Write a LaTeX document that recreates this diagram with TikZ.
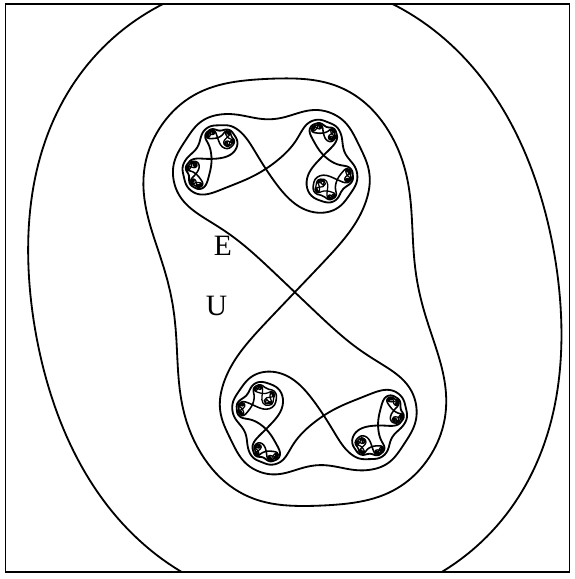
\documentclass[tikz,border=0pt]{standalone}
\usepackage{fontspec}
\usepackage{tikz}
\newfontfamily\labelfont{Liberation Serif}

\ExplSyntaxOn
% f(z) = z^2 + c, level curves of the Green function
\fp_const:Nn \c_jul_cx_fp { 0.9657 }
\fp_const:Nn \c_jul_cy_fp { 0.4806 }
\fp_new:N \l_jul_a_fp
\fp_new:N \l_jul_b_fp
\fp_new:N \l_jul_r_fp
\fp_new:N \l_jul_t_fp
\fp_new:N \l_jul_ang_fp
\fp_new:N \l_jul_zx_fp
\fp_new:N \l_jul_zy_fp
\fp_new:N \l_jul_wx_fp
\fp_new:N \l_jul_wy_fp
\fp_new:N \l_jul_gzero_fp
\fp_new:N \l_jul_thc_fp
\fp_new:N \l_jul_ca_fp
\fp_new:N \l_jul_sa_fp
\fp_new:N \l_jul_rx_fp
\fp_new:N \l_jul_ry_fp
\seq_new:N \l_jul_src_seq
\seq_new:N \l_jul_new_seq
\seq_new:N \l_jul_outer_seq
\tl_new:N \l_jul_path_tl
\int_new:N \l_jul_idx_int
\int_new:N \l_jul_depth_int
\int_set:Nn \l_jul_depth_int { 7 }

\cs_new_protected:Npn \jul_psqrt:
  {
    \fp_set:Nn \l_jul_r_fp { sqrt( \l_jul_a_fp ^ 2 + \l_jul_b_fp ^ 2 ) }
    \fp_set:Nn \l_jul_zx_fp { sqrt( abs( \l_jul_r_fp + \l_jul_a_fp ) / 2 ) }
    \fp_set:Nn \l_jul_zy_fp { sqrt( abs( \l_jul_r_fp - \l_jul_a_fp ) / 2 ) }
    \fp_compare:nNnT { \l_jul_b_fp } < { 0 }
      { \fp_set:Nn \l_jul_zy_fp { - \l_jul_zy_fp } }
  }

% point of {G = #1} at external angle #2, #3 backward steps
\cs_new_protected:Npn \jul_psi:nnn #1#2#3
  {
    \fp_set:Nn \l_jul_r_fp { exp( 2 ^ (#3) * (#1) ) }
    \fp_set:Nn \l_jul_ang_fp { 2 ^ (#3) * (#2) }
    \fp_set:Nn \l_jul_wx_fp { \l_jul_r_fp * cosd( \l_jul_ang_fp ) }
    \fp_set:Nn \l_jul_wy_fp { \l_jul_r_fp * sind( \l_jul_ang_fp ) }
    \prg_replicate:nn { #3 }
      {
        \fp_set:Nn \l_jul_ang_fp { \l_jul_ang_fp / 2 }
        \fp_set:Nn \l_jul_a_fp { \l_jul_wx_fp - \c_jul_cx_fp }
        \fp_set:Nn \l_jul_b_fp { \l_jul_wy_fp - \c_jul_cy_fp }
        \jul_psqrt:
        \fp_compare:nNnTF
          { \l_jul_zx_fp * cosd( \l_jul_ang_fp ) + \l_jul_zy_fp * sind( \l_jul_ang_fp ) } < { 0 }
          {
            \fp_set:Nn \l_jul_wx_fp { - \l_jul_zx_fp }
            \fp_set:Nn \l_jul_wy_fp { - \l_jul_zy_fp }
          }
          {
            \fp_set_eq:NN \l_jul_wx_fp \l_jul_zx_fp
            \fp_set_eq:NN \l_jul_wy_fp \l_jul_zy_fp
          }
      }
  }

\cs_new_protected:Npn \jul_setup:
  {
    \fp_zero:N \l_jul_zx_fp
    \fp_zero:N \l_jul_zy_fp
    \prg_replicate:nn { 8 }
      {
        \fp_set:Nn \l_jul_t_fp { \l_jul_zx_fp ^ 2 - \l_jul_zy_fp ^ 2 + \c_jul_cx_fp }
        \fp_set:Nn \l_jul_zy_fp { 2 * \l_jul_zx_fp * \l_jul_zy_fp + \c_jul_cy_fp }
        \fp_set_eq:NN \l_jul_zx_fp \l_jul_t_fp
      }
    \fp_set:Nn \l_jul_gzero_fp { ln( \l_jul_zx_fp ^ 2 + \l_jul_zy_fp ^ 2 ) / 512 }
    % external angle of c
    \fp_set:Nn \l_jul_thc_fp { atand( \c_jul_cy_fp , \c_jul_cx_fp ) }
    \fp_set_eq:NN \l_jul_zx_fp \c_jul_cx_fp
    \fp_set_eq:NN \l_jul_zy_fp \c_jul_cy_fp
    \fp_set:Nn \l_jul_r_fp { 2 }
    \prg_replicate:nn { 6 }
      {
        \fp_set:Nn \l_jul_a_fp { \l_jul_zx_fp ^ 2 - \l_jul_zy_fp ^ 2 }
        \fp_set:Nn \l_jul_b_fp { 2 * \l_jul_zx_fp * \l_jul_zy_fp }
        \fp_set:Nn \l_jul_t_fp { \l_jul_a_fp ^ 2 + \l_jul_b_fp ^ 2 }
        \fp_set:Nn \l_jul_wx_fp { 1 + ( \c_jul_cx_fp * \l_jul_a_fp + \c_jul_cy_fp * \l_jul_b_fp ) / \l_jul_t_fp }
        \fp_set:Nn \l_jul_wy_fp { ( \c_jul_cy_fp * \l_jul_a_fp - \c_jul_cx_fp * \l_jul_b_fp ) / \l_jul_t_fp }
        \fp_add:Nn \l_jul_thc_fp { atand( \l_jul_wy_fp , \l_jul_wx_fp ) / \l_jul_r_fp }
        \fp_set:Nn \l_jul_r_fp { 2 * \l_jul_r_fp }
        \fp_set:Nn \l_jul_zx_fp { \l_jul_a_fp + \c_jul_cx_fp }
        \fp_set:Nn \l_jul_zy_fp { \l_jul_b_fp + \c_jul_cy_fp }
      }
    \fp_set:Nn \l_jul_ca_fp { cosd( atand( \c_jul_cy_fp , \c_jul_cx_fp ) ) }
    \fp_set:Nn \l_jul_sa_fp { sind( atand( \c_jul_cy_fp , \c_jul_cx_fp ) ) }
    \fp_set:Nn \l_jul_rx_fp { cosd( ( atand( \c_jul_cy_fp , \c_jul_cx_fp ) - 180 ) / 2 ) }
    \fp_set:Nn \l_jul_ry_fp { sind( ( atand( \c_jul_cy_fp , \c_jul_cx_fp ) - 180 ) / 2 ) }
    % outer curve
    \seq_clear:N \l_jul_outer_seq
    \int_step_inline:nnn { 0 } { 239 }
      {
        \jul_psi:nnn { 4.15 * \l_jul_gzero_fp } { 360 * ##1 / 240 } { 3 }
        \seq_put_right:Nx \l_jul_outer_seq { { \fp_use:N \l_jul_wx_fp } { \fp_use:N \l_jul_wy_fp } }
      }
    % curve G = 2 g0, through c
    \seq_clear:N \l_jul_src_seq
    \seq_put_right:Nx \l_jul_src_seq { { \fp_use:N \c_jul_cx_fp } { \fp_use:N \c_jul_cy_fp } }
    \int_step_inline:nnn { 1 } { 255 }
      {
        \jul_psi:nnn { 2 * \l_jul_gzero_fp }
          { \l_jul_thc_fp + 180 * ( 1 - cos( pi * ##1 / 256 ) ) } { 4 }
        \seq_put_right:Nx \l_jul_src_seq { { \fp_use:N \l_jul_wx_fp } { \fp_use:N \l_jul_wy_fp } }
      }
  }

\cs_new_protected:Npn \jul_coord:nn #1#2
  {
    \tl_put_right:Nx \l_jul_path_tl
      { ( \fp_to_decimal:n { round( #1 , 4 ) } , \fp_to_decimal:n { round( #2 , 4 ) } ) -- }
  }
\cs_new_protected:Npn \jul_draw:Nn #1#2
  {
    \tl_clear:N \l_jul_path_tl
    \seq_map_inline:Nn #1 { \jul_coord:nn ##1 }
    \use:x { \exp_not:N \draw [ #2 ] \exp_not:V \l_jul_path_tl cycle ; }
  }

% inverse branches of f, cut along the ray from c away from 0
\cs_new_protected:Npn \jul_h:nnn #1#2#3
  {
    \fp_set:Nn \l_jul_a_fp
      { ( \c_jul_cx_fp - (#2) ) * \l_jul_ca_fp + ( \c_jul_cy_fp - (#3) ) * \l_jul_sa_fp }
    \fp_set:Nn \l_jul_b_fp
      { ( \c_jul_cy_fp - (#3) ) * \l_jul_ca_fp - ( \c_jul_cx_fp - (#2) ) * \l_jul_sa_fp }
    \jul_psqrt:
    \seq_put_right:Nx \l_jul_new_seq
      {
        { \fp_eval:n { (#1) * ( \l_jul_zx_fp * \l_jul_rx_fp - \l_jul_zy_fp * \l_jul_ry_fp ) } }
        { \fp_eval:n { (#1) * ( \l_jul_zx_fp * \l_jul_ry_fp + \l_jul_zy_fp * \l_jul_rx_fp ) } }
      }
  }
\cs_new_protected:Npn \jul_lobes:n #1
  {
    \jul_child:nn { 1 } { #1 }
    \jul_child:nn { -1 } { #1 }
  }
\cs_new_protected:Npn \jul_child:nn #1#2
  {
    \group_begin:
      \seq_clear:N \l_jul_new_seq
      \seq_map_inline:Nn \l_jul_src_seq { \jul_h:nnn { #1 } ##1 }
      \jul_draw:Nn \l_jul_new_seq { lobe = #2 }
      \int_compare:nNnT { #2 } < { \l_jul_depth_int }
        {
          \seq_clear:N \l_jul_src_seq
          \int_zero:N \l_jul_idx_int
          \seq_map_inline:Nn \l_jul_new_seq
            {
              \int_incr:N \l_jul_idx_int
              \int_if_odd:nT { \l_jul_idx_int } { \seq_put_right:Nn \l_jul_src_seq { ##1 } }
            }
          \exp_args:Nx \jul_lobes:n { \int_eval:n { #2 + 1 } }
        }
    \group_end:
  }

\NewDocumentCommand \GreenSetup { } { \jul_setup: }
\NewDocumentCommand \DrawOuterCurve { } { \jul_draw:Nn \l_jul_outer_seq { curve } }
\NewDocumentCommand \DrawPeanut { } { \jul_draw:Nn \l_jul_src_seq { curve } }
\NewDocumentCommand \DrawLobes { } { \jul_lobes:n { 1 } }
\ExplSyntaxOff

\begin{document}
\begin{tikzpicture}[x=3.05cm,y=3.05cm,
  curve/.style={line width=1.3pt,line join=round},
  lobe/.style={curve,line width={max(0.9,min(1.3,1.9-0.2*#1))}},
  frame/.style={line width=0.9pt},
  lbl/.style={font=\labelfont\fontsize{21}{25}\selectfont,inner sep=0pt}]
\GreenSetup
\coordinate (bbSW) at (-2.4164,-2.3508);
\coordinate (bbNE) at (2.2885,2.3951);
\coordinate (frameSW) at (-2.3713,-2.2934);
\coordinate (frameNE) at (2.2516,2.3623);
\useasboundingbox (bbSW) rectangle (bbNE);
\begin{scope}
  \clip (frameSW) rectangle (frameNE);
  \DrawOuterCurve
\end{scope}
\draw[frame] (frameSW) rectangle (frameNE);
\DrawPeanut
\DrawLobes
\node[lbl] (labelE) at (-0.5885,0.3787) {E};
\node[lbl] (labelU) at (-0.6418,-0.109) {U};
\end{tikzpicture}
\end{document}
